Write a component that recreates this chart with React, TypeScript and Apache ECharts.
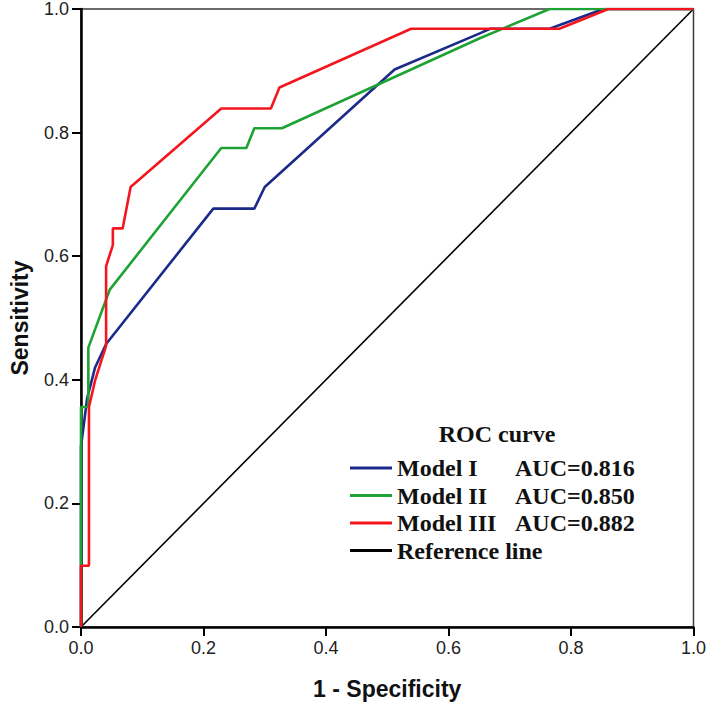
import React, { useEffect, useRef } from "react";
import * as echarts from "echarts";

const xTicks = [0, 0.2, 0.4, 0.6, 0.8, 1.0];

const model1X = [0, 0, 0.01, 0.023, 0.041, 0.216, 0.283, 0.3, 0.512, 0.652, 0.668, 0.765, 0.853, 1];
const model1Y = [0, 0.292, 0.37, 0.42, 0.458, 0.677, 0.677, 0.712, 0.902, 0.961, 0.968, 0.968, 1, 1];

const model2X = [0, 0, 0.012, 0.012, 0.047, 0.229, 0.27, 0.283, 0.328, 0.652, 0.765, 1];
const model2Y = [0, 0.356, 0.356, 0.452, 0.546, 0.775, 0.775, 0.807, 0.807, 0.953, 1, 1];

const model3X = [0, 0, 0.013, 0.013, 0.023, 0.041, 0.041, 0.052, 0.052, 0.068, 0.081, 0.229, 0.31, 0.324, 0.539, 0.781, 0.861, 1];
const model3Y = [0, 0.099, 0.099, 0.356, 0.399, 0.455, 0.584, 0.618, 0.645, 0.645, 0.712, 0.839, 0.839, 0.873, 0.968, 0.968, 1, 1];

const refX = [0, 1];
const refY = [0, 1];

const seriesNames = ["Model I", "Model II", "Model III", "Reference line"];
const aucLabels = ["AUC=0.816", "AUC=0.850", "AUC=0.882", ""];
const colors = ["#1c2a8a", "#1fa234", "#f4161e", "#000000"];

const zip = (xs: number[], ys: number[]) => xs.map((x, i) => [x, ys[i]]);

export default function App() {
  const ref = useRef<HTMLDivElement>(null);
  useEffect(() => {
    if (!ref.current) return;
    const chart = echarts.init(ref.current, null, { renderer: "svg" });
    const data = [zip(model1X, model1Y), zip(model2X, model2Y), zip(model3X, model3Y), zip(refX, refY)];
    const axisLabel = {
      fontFamily: "Liberation Sans",
      fontSize: 18,
      color: "#222",
      margin: 12,
      formatter: (v: number) => v.toFixed(1),
    };
    const legendFont = { fontFamily: "Liberation Serif", fontSize: 24, fontWeight: "bold", color: "#111", lineHeight: 24 };
    chart.setOption({
      animation: false,
      backgroundColor: "#ffffff",
      grid: {
        left: 76,
        right: 13,
        top: 6,
        bottom: 77,
        show: true,
        borderColor: "#3a3a3a",
        borderWidth: 1.5,
        backgroundColor: "transparent",
      },
      xAxis: {
        type: "value",
        min: 0,
        max: 1,
        interval: 0.2,
        name: "1 - Specificity",
        nameLocation: "middle",
        nameGap: 50,
        nameTextStyle: { fontFamily: "Liberation Sans", fontSize: 23, fontWeight: "bold", color: "#111" },
        axisLine: { show: true, onZero: false, lineStyle: { color: "#000", width: 2.5 } },
        axisTick: { show: true, length: 9, lineStyle: { color: "#000", width: 2 } },
        axisLabel,
        splitLine: { show: false },
      },
      yAxis: {
        type: "value",
        min: 0,
        max: 1,
        interval: 0.2,
        name: "Sensitivity",
        nameLocation: "middle",
        nameGap: 50,
        nameTextStyle: { fontFamily: "Liberation Sans", fontSize: 23, fontWeight: "bold", color: "#111" },
        axisLine: { show: true, onZero: false, lineStyle: { color: "#000", width: 2.5 } },
        axisTick: { show: true, length: 9, lineStyle: { color: "#000", width: 2 } },
        axisLabel,
        splitLine: { show: false },
      },
      legend: {
        orient: "vertical",
        left: 350,
        top: 456,
        padding: 0,
        itemGap: 3.5,
        itemWidth: 42,
        itemHeight: 3,
        icon: "rect",
        selectedMode: false,
        data: seriesNames,
        formatter: (name: string) => {
          const i = seriesNames.indexOf(name);
          return aucLabels[i] ? `{n|${name}}{a|${aucLabels[i]}}` : `{r|${name}}`;
        },
        textStyle: {
          ...legendFont,
          rich: {
            n: { ...legendFont, width: 118 },
            a: { ...legendFont },
            r: { ...legendFont },
          },
        },
      },
      graphic: [
        {
          type: "text",
          x: 497,
          y: 434,
          style: {
            text: "ROC curve",
            fontFamily: "Liberation Serif",
            fontSize: 24,
            fontWeight: "bold",
            fill: "#111",
            textAlign: "center",
            textVerticalAlign: "middle",
          },
        },
      ],
      series: seriesNames.map((name, i) => ({
        name,
        type: "line",
        data: data[i],
        showSymbol: false,
        symbol: "none",
        color: colors[i],
        lineStyle: { color: colors[i], width: i === 3 ? 1.6 : 2.6 },
        z: i === 3 ? 1 : 2 + i,
      })),
    });
    return () => chart.dispose();
  }, []);
  return <div ref={ref} style={{ position: "fixed", left: 0, top: 0, width: 709, height: 705 }} />;
}
